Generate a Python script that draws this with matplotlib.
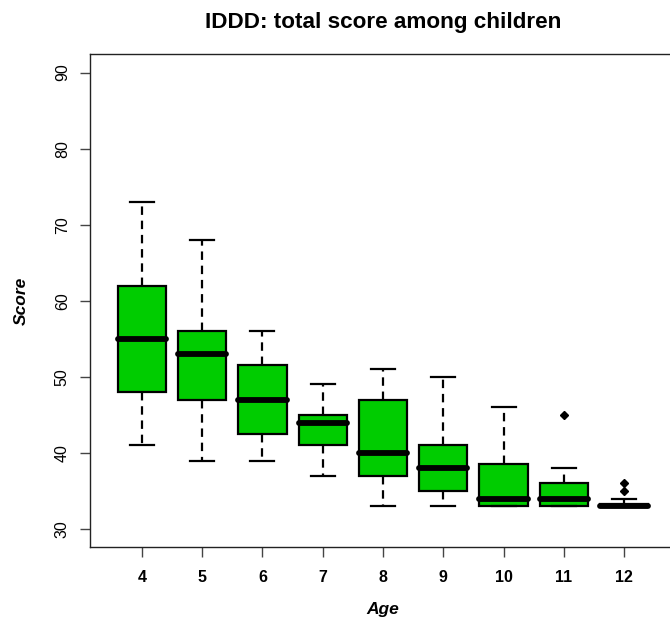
import numpy as np
import matplotlib
matplotlib.use("Agg")
import matplotlib.pyplot as plt

plt.rcParams['font.family'] = ['Liberation Sans', 'DejaVu Sans']

# Box summaries per age group (whisker ends, quartiles, median, outliers)
ages = ['4', '5', '6', '7', '8', '9', '10', '11', '12']
whisker_lo = [41, 39, 39, 37, 33, 33, 33, 33, 33]
q1 = [48, 47, 42.5, 41, 37, 35, 33, 33, 33]
median = [55, 53, 47, 44, 40, 38, 34, 34, 33]
q3 = [62, 56, 51.5, 45, 47, 41, 38.5, 36, 33.25]
whisker_hi = [73, 68, 56, 49, 51, 50, 46, 38, 34]
outliers = [[], [], [], [], [], [], [], [45], [35, 36]]

box_green = '#00CC00'

stats = []
for i, lab in enumerate(ages):
    stats.append({
        'label': lab,
        'whislo': whisker_lo[i],
        'q1': q1[i],
        'med': median[i],
        'q3': q3[i],
        'whishi': whisker_hi[i],
        'fliers': outliers[i],
    })

fig = plt.figure(figsize=(6.7, 6.18), dpi=100)
# right edge sits just past the figure, like the cropped R device
ax = fig.add_axes([90 / 670, (618 - 547.3) / 618, (676 - 90) / 670, (547.3 - 54.3) / 618])

positions = np.arange(1, len(ages) + 1)
ax.bxp(stats, positions=positions, widths=0.8, patch_artist=True,
       boxprops=dict(facecolor=box_green, edgecolor='black', linewidth=1.6),
       medianprops=dict(color='black', linewidth=4.2, solid_capstyle='round'),
       whiskerprops=dict(color='black', linewidth=1.6, linestyle=(0, (3.8, 2.6))),
       capprops=dict(color='black', linewidth=1.6),
       capwidths=0.4,
       flierprops=dict(marker='D', markerfacecolor='black', markeredgecolor='black',
                       markersize=3.6))

ax.set_xlim(0.14, 9.86)
ax.set_ylim(27.6, 92.4)
ax.set_yticks([30, 40, 50, 60, 70, 80, 90])
ax.set_xticks(positions)
ax.set_xticklabels(ages)

for lab in ax.get_yticklabels():
    lab.set_rotation(90)
    lab.set_va('center')

ax.tick_params(axis='both', direction='out', length=7.5, width=1.0, color='#444444',
               labelsize=11.5)
ax.tick_params(axis='y', pad=7)
ax.tick_params(axis='x', pad=9)
for lab in ax.get_xticklabels():
    lab.set_fontweight('bold')

for sp in ax.spines.values():
    sp.set_linewidth(1.0)
    sp.set_color('#222222')

ax.set_title('IDDD: total score among children', fontsize=16.2, fontweight='bold', pad=19)
ax.set_xlabel('Age', fontsize=12.5, fontweight='bold', style='italic', labelpad=12)
ax.set_ylabel('Score', fontsize=12.5, fontweight='bold', style='italic', labelpad=19)

fig.savefig('out.png', dpi=100)
